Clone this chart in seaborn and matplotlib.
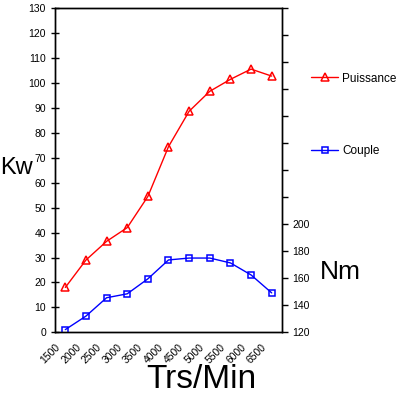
import matplotlib
matplotlib.use('Agg')
import matplotlib.pyplot as plt
import seaborn as sns

sns.set_style('white')
plt.rcParams['font.family'] = ['Liberation Sans', 'DejaVu Sans']
plt.rcParams['text.color'] = 'black'

# engine speed (Trs/Min), power (Kw) and torque (Nm)
rpm = [1750, 2250, 2750, 3250, 3750, 4250, 4750, 5250, 5750, 6250, 6750]
puissance = [18, 29, 36.5, 42, 54.5, 74.5, 88.7, 96.7, 101.5, 105.6, 102.8]
couple = [122, 132, 145.6, 148.5, 159.6, 173.6, 175, 175, 171.4, 162.5, 149.2]
x_ticks = list(range(1500, 7001, 500))
x_labels = [str(v) for v in x_ticks[:-1]] + ['']

fig = plt.figure(figsize=(4.02, 3.97), dpi=100)
ax = fig.add_axes([55/402, 1-332.3/397, 227/402, 324/397])
ax2 = ax.twinx()

sns.lineplot(x=rpm, y=puissance, ax=ax, color='red', lw=1, marker='^',
             markersize=5.5, markerfacecolor='none', markeredgecolor='red',
             markeredgewidth=1.1, label='Puissance', legend=False)
sns.lineplot(x=rpm, y=couple, ax=ax2, color='blue', lw=1, marker='s',
             markersize=4.8, markerfacecolor='none', markeredgecolor='blue',
             markeredgewidth=1.1, label='Couple', legend=False)

ax.set_xlim(1500, 7000)
ax.set_ylim(0, 130)
ax.set_yticks(range(0, 131, 10))
ax.set_xticks(x_ticks)
ax.set_xticklabels(x_labels, rotation=45, ha='right', rotation_mode='anchor')
ax.tick_params(axis='both', direction='inout', length=6, width=1, labelsize=7.5,
               colors='black', labelcolor='black')
ax.tick_params(axis='x', pad=4)

ax2.set_ylim(120, 360)
nm_ticks = list(range(120, 361, 20))
ax2.set_yticks(nm_ticks)
ax2.set_yticklabels([str(v) if v <= 200 else '' for v in nm_ticks])
ax2.tick_params(axis='y', direction='out', length=4, width=1, labelsize=7.5,
                colors='black', labelcolor='black')

for a in (ax, ax2):
    for s in a.spines.values():
        s.set_color('black')
        s.set_linewidth(1)
    a.set_xlabel('')
    a.set_ylabel('')

fig.text(0.0, 1-168/397, 'Kw', fontsize=17, va='center', ha='left', color='black')
fig.text(340/402, 1-272/397, 'Nm', fontsize=19, va='center', ha='center', color='black')
fig.text(201/402, 1-380/397, 'Trs/Min', fontsize=24, va='center', ha='center', color='black')

h1, l1 = ax.get_legend_handles_labels()
h2, l2 = ax2.get_legend_handles_labels()
leg = fig.legend(h1 + h2, l1 + l2, loc='upper left', bbox_to_anchor=(311/402, 1-72.5/397),
                 frameon=False, fontsize=8.5, labelspacing=5.1, handlelength=2.3,
                 handletextpad=0.35, borderaxespad=0, borderpad=0)
for t in leg.get_texts():
    t.set_color('black')

fig.savefig('out.png', dpi=100)
